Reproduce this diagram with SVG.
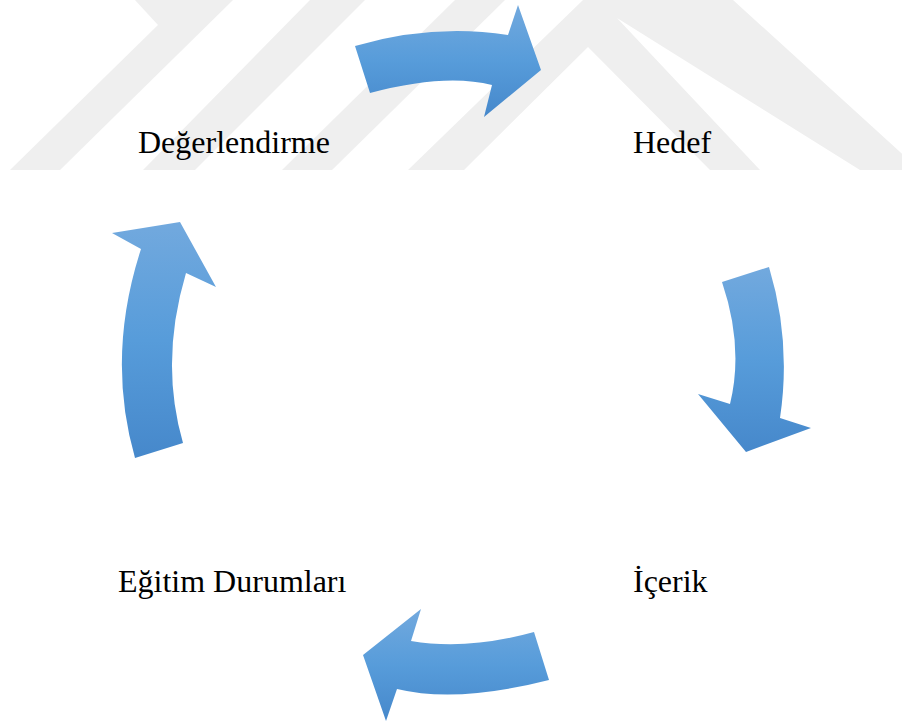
<svg xmlns="http://www.w3.org/2000/svg" width="902" height="722" viewBox="0 0 902 722">
<style>
.lbl{font-family:"Liberation Serif","Times New Roman",serif;font-size:32px;fill:#000}
.wm{fill:#efefef}
.arr{fill:url(#g)}
</style>
<defs>
<linearGradient id="g" x1="0" y1="0" x2="0" y2="1">
<stop offset="0" stop-color="#72a9de"/>
<stop offset="0.5" stop-color="#579cda"/>
<stop offset="1" stop-color="#4688cb"/>
</linearGradient>
</defs>
<rect width="902" height="722" fill="#fff"/>
<g id="watermark">
<polygon class="wm" points="135,0 233,0 60,170 10,170 158,25"/>
<polygon class="wm" points="310,0 365,0 195,170 143,170"/>
<polygon class="wm" points="455,0 505,0 332,170 282,170"/>
<polygon class="wm" points="583,0 733,0 920,170 860,170 617,18 760,170 710,170 588,47 464,170 408,170"/>
</g>
<g id="connectors">
<path class="arr" d="M355,46 Q432.5,23.5 508,35 L518,5 L541,70 L484,117 L492,85 Q445,73 370,93 Z"/>
<path class="arr" d="M722,282 L769,267 Q791.5,341.5 780,418 L811,428 L746,452 L698,394 L730,404 Q744,347 722,282 Z"/>
<path class="arr" d="M534,632 L549,680 Q457,703.5 397,689 L386,721 L363,655 L421,609 L411,641 Q467.5,650.5 534,632 Z"/>
<path class="arr" d="M135,458 L183,443 Q159.5,362 186,273 L216,287 L180,222 L112,233 L141,249 Q106,356.5 135,458 Z"/>
</g>
<g id="node-hedef"><text class="lbl" x="633" y="153">Hedef</text></g>
<g id="node-icerik"><text class="lbl" x="633" y="592">İçerik</text></g>
<g id="node-egitim"><text class="lbl" x="118" y="592">Eğitim Durumları</text></g>
<g id="node-degerlendirme"><text class="lbl" x="138" y="153">Değerlendirme</text></g>
</svg>
